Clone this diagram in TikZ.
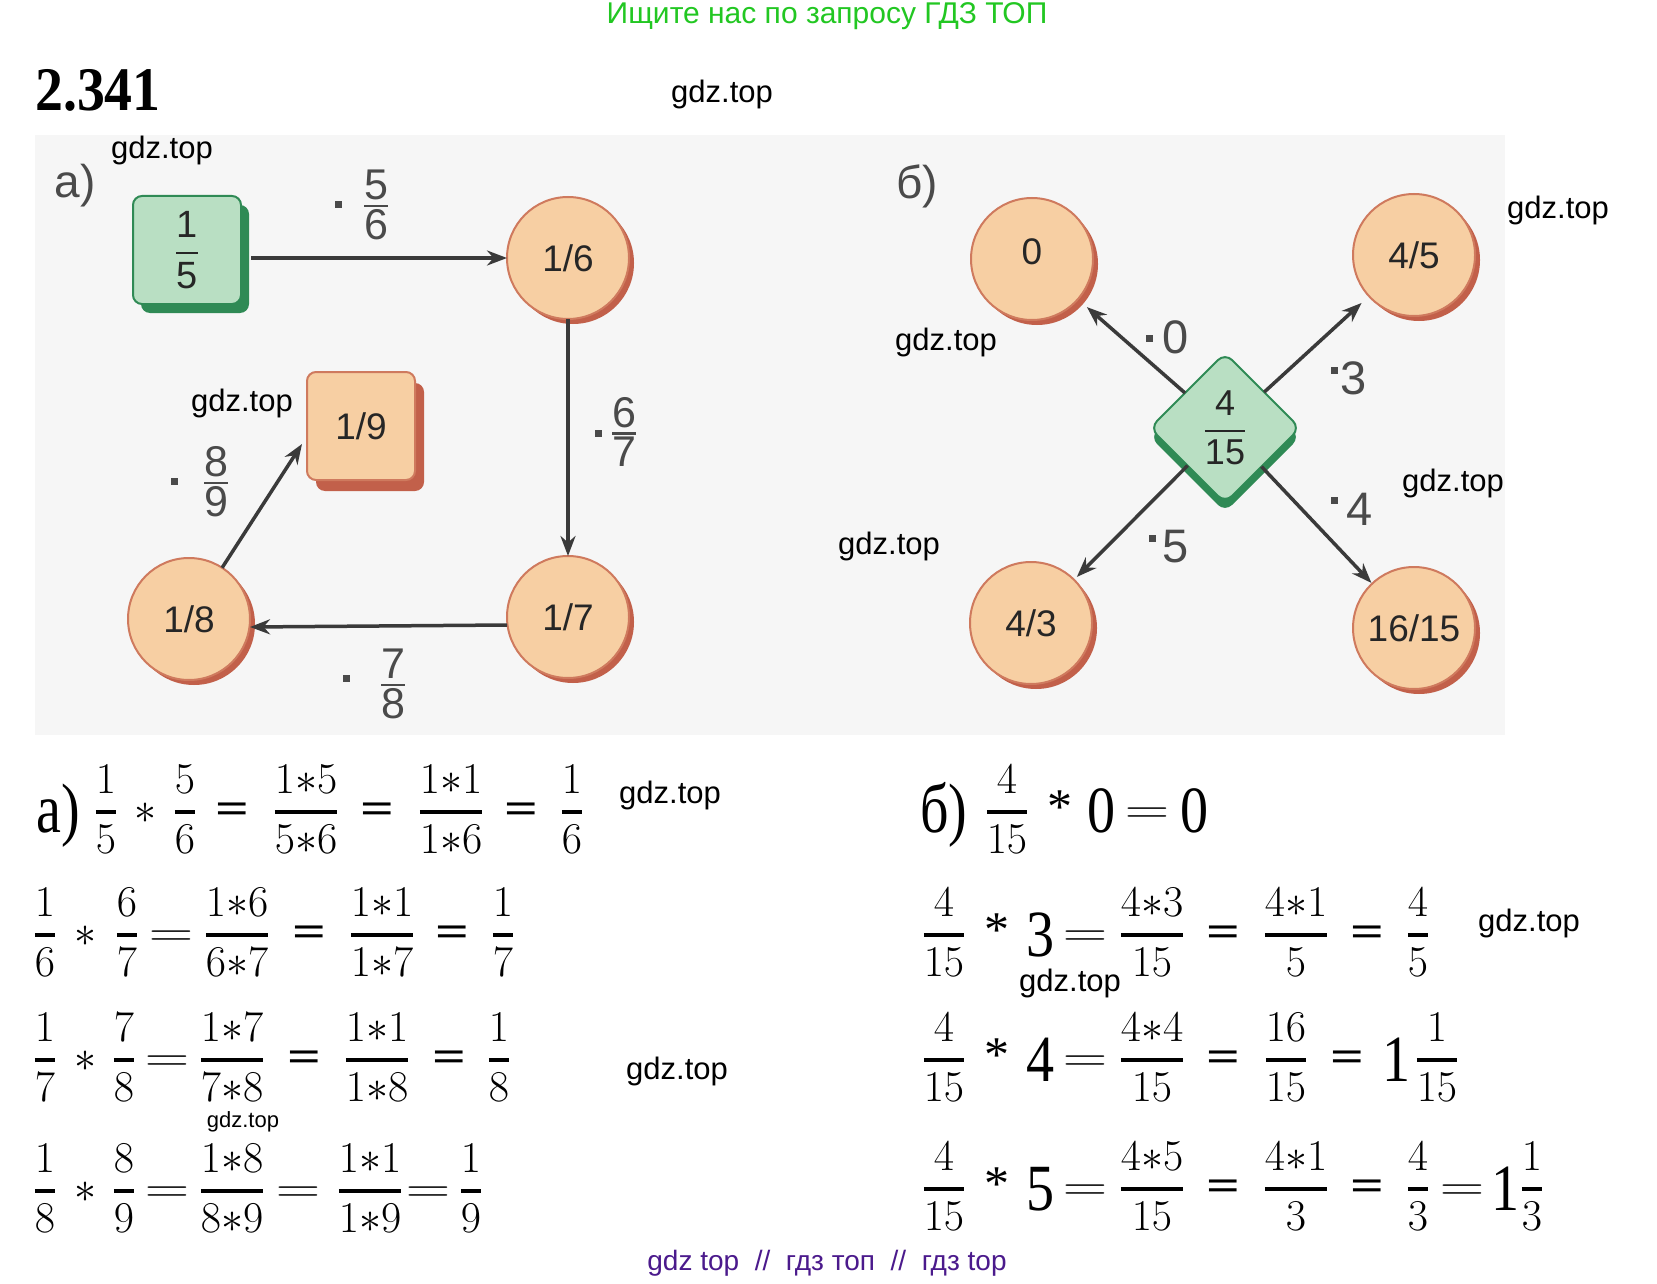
\RequirePackage{fix-cm}
\documentclass[tikz,border=0pt]{standalone}
\usepackage{amsmath}
\usepackage{fontspec}
\setmainfont{Liberation Serif}
\setsansfont{Liberation Sans}
\usetikzlibrary{arrows.meta,shapes.geometric,shadows}
\definecolor{gfill}{HTML}{B9DFC3}
\definecolor{gdark}{HTML}{2F8A55}
\definecolor{pfill}{HTML}{F7CFA3}
\definecolor{pdark}{HTML}{C2604A}
\definecolor{pline}{HTML}{CF7A5E}
\definecolor{arrc}{HTML}{3A3A3A}
\definecolor{labc}{HTML}{4A4A4A}
\definecolor{hgreen}{HTML}{22C722}
\definecolor{fpurple}{HTML}{4B1A8C}
\newcommand\FS[1]{\fontsize{#1}{#1}\selectfont}
\newcommand\F[2]{\genfrac{}{}{3.5pt}{0}{#1}{#2}}
\newcommand\LF[2]{\genfrac{}{}{2.5pt}{1}{\textstyle\text{#1}}{\textstyle\text{#2}}}
\newcommand\BF[2]{\genfrac{}{}{2.5pt}{0}{\text{#1}}{\text{#2}}}
\newcommand\EQ{\scalebox{1.4}[1]{$=$}}
\newcommand\EQB{\scalebox{1.35}[1]{\bfseries =}}
\newcommand\BG[1]{{\FS{66}\scalebox{0.85}[1]{#1}}}
\newcommand\BL[1]{{\FS{70}\scalebox{0.8}[1]{#1}}}
\begin{document}
\begin{tikzpicture}[x=1pt,y=-1pt,
  every node/.style={inner sep=0pt,outer sep=0pt},
  circ/.style={circle,fill=pfill,draw=pline,line width=2pt,minimum size=122pt,
    font=\sffamily\FS{37},text=black!85,
    drop shadow={shadow xshift=5pt,shadow yshift=-5pt,opacity=1,fill=pdark}},
  gsq/.style={rectangle,rounded corners=9pt,fill=gfill,draw=gdark,line width=2pt,
    minimum size=108pt,font=\sffamily\FS{38},text=black!85,
    drop shadow={shadow xshift=8pt,shadow yshift=-9pt,opacity=1,fill=gdark}},
  psq/.style={rectangle,rounded corners=9pt,fill=pfill,draw=pline,line width=2pt,
    minimum size=108pt,font=\sffamily\FS{37},text=black!85,
    drop shadow={shadow xshift=9pt,shadow yshift=-11pt,opacity=1,fill=pdark}},
  gdia/.style={diamond,aspect=1,rounded corners=10pt,fill=gfill,draw=gdark,line width=2pt,
    minimum width=150pt,minimum height=150pt,font=\sffamily\FS{36},text=black!85,
    drop shadow={shadow xshift=0pt,shadow yshift=-9pt,opacity=1,fill=gdark}},
  arr/.style={-{Stealth[length=20pt,width=15pt]},draw=arrc,line width=3.5pt},
  lab/.style={font=\sffamily\FS{43},text=labc},
  dotm/.style={fill=labc,minimum size=7pt},
  wm/.style={font=\sffamily\FS{31},text=black},
  eq/.style={anchor=base,font=\FS{44}},
]
\fill[white] (0,0) rectangle (1657,1284);
\useasboundingbox (0,0) rectangle (1657,1284);
\fill[black!3.5] (35,135) rectangle (1505,735);

% headers
\node[font=\sffamily\FS{30},text=hgreen] (hdr) at (827,16) {Ищите нас по запросу ГДЗ ТОП};
\node[font=\bfseries\FS{62}] (num) at (98,90) {\scalebox{0.9}[1]{2.341}};
\node[font=\sffamily\FS{46},text=labc] (la) at (75,186) {a)};
\node[font=\sffamily\FS{46},text=labc] (lb) at (917,186) {б)};

% diagram a
\node[gsq] (s15) at (187,250) {$\BF{1}{5}$};
\node[circ] (c16) at (568,258) {1/6};
\node[circ] (c17) at (568,617) {1/7};
\node[circ] (c18) at (189,619) {1/8};
\node[psq] (s19) at (361,426) {1/9};
\draw[arr] ([xshift=10pt]s15.east |- c16) -- (c16);
\draw[arr] (c16) -- (c17);
\draw[arr] ([yshift=-8pt]c17.west) -- ([yshift=-8pt]c18.east);
\draw[arr] (c18) -- ([yshift=-18pt,xshift=-5pt]s19.west);
\node[dotm] (d56) at (338,205) {};
\node[lab] (f56) at (376,205) {$\LF{5}{6}$};
\node[dotm] (d67) at (598,433) {};
\node[lab] (f67) at (624,432) {$\LF{6}{7}$};
\node[dotm] (d78) at (346,678) {};
\node[lab] (f78) at (393,684) {$\LF{7}{8}$};
\node[dotm] (d89) at (174,481) {};
\node[lab] (f89) at (216,482) {$\LF{8}{9}$};

% diagram b
\node[gdia] (dia) at (1225,428) {$\BF{4}{15}$};
\node[circ] (c0) at (1032,259) {\raisebox{14pt}{0}\hspace{22pt}};
\node[circ] (c45) at (1414,255) {4/5};
\node[circ] (c43) at (1031,623) {4/3\hspace{16pt}};
\node[circ] (c1615) at (1414,628) {16/15};
\draw[arr,shorten >=12pt] (dia) -- (c0);
\draw[arr,shorten >=10pt] (dia) -- (c45);
\draw[arr,shorten >=4pt] (dia) -- (c43);
\draw[arr,shorten >=1pt] (dia) -- (c1615);
\node[dotm] (d0) at (1149,338) {};
\node[lab,font=\sffamily\FS{47}] (n0) at (1176,337) {0};
\node[dotm] (d3) at (1334,370) {};
\node[lab,font=\sffamily\FS{47}] (n3) at (1354,378) {3};
\node[dotm] (d4) at (1334,500) {};
\node[lab,font=\sffamily\FS{47}] (n4) at (1360,509) {4};
\node[dotm] (d5) at (1152,538) {};
\node[lab,font=\sffamily\FS{47}] (n5) at (1176,547) {5};

% equations a
\foreach \x/\y/\t [count=\i] in {58/832/{\BL{a)}}, 106/823/{$\F{1}{5}$}, 145/823/{$\ast$}, 185/823/{$\F{5}{6}$}, 232/823/{\EQB}, 306/823/{$\F{1{\ast}5}{5{\ast}6}$}, 377/823/{\EQB}, 451/823/{$\F{1{\ast}1}{1{\ast}6}$}, 521/823/{\EQB}, 572/823/{$\F{1}{6}$}}
  \node[eq] (ra\i) at (\x,\y) {\t};
\foreach \x/\t [count=\i] in {45/{$\F{1}{6}$}, 85/{$\ast$}, 127/{$\F{6}{7}$}, 171/{\EQ}, 237/{$\F{1{\ast}6}{6{\ast}7}$}, 309/{\EQB}, 382/{$\F{1{\ast}1}{1{\ast}7}$}, 452/{\EQB}, 503/{$\F{1}{7}$}}
  \node[eq] (rb\i) at (\x,946) {\t};
\foreach \x/\t [count=\i] in {45/{$\F{1}{7}$}, 85/{$\ast$}, 124/{$\F{7}{8}$}, 167/{\EQ}, 232/{$\F{1{\ast}7}{7{\ast}8}$}, 304/{\EQB}, 377/{$\F{1{\ast}1}{1{\ast}8}$}, 449/{\EQB}, 499/{$\F{1}{8}$}}
  \node[eq] (rc\i) at (\x,1071) {\t};
\foreach \x/\t [count=\i] in {45/{$\F{1}{8}$}, 85/{$\ast$}, 124/{$\F{8}{9}$}, 167/{\EQ}, 232/{$\F{1{\ast}8}{8{\ast}9}$}, 298/{\EQ}, 370/{$\F{1{\ast}1}{1{\ast}9}$}, 428/{\EQ}, 471/{$\F{1}{9}$}}
  \node[eq] (rd\i) at (\x,1202) {\t};

% equations b
\foreach \x/\y/\t [count=\i] in {944/832/{\BL{б)}}, 1007/823/{$\F{4}{15}$}, 1060/823/{{\FS{50}*}}, 1102/832/{\BG{0}}, 1147/823/{\EQ}, 1195/832/{\BG{0}}}
  \node[eq] (sa\i) at (\x,\y) {\t};
\foreach \x/\y/\t [count=\i] in {944/946/{$\F{4}{15}$}, 997/946/{{\FS{50}*}}, 1041/956/{\BG{3}}, 1085/946/{\EQ}, 1152/946/{$\F{4{\ast}3}{15}$}, 1223/946/{\EQB}, 1296/946/{$\F{4{\ast}1}{5}$}, 1367/946/{\EQB}, 1418/946/{$\F{4}{5}$}}
  \node[eq] (sb\i) at (\x,\y) {\t};
\foreach \x/\y/\t [count=\i] in {944/1071/{$\F{4}{15}$}, 997/1071/{{\FS{50}*}}, 1041/1081/{\BG{4}}, 1085/1071/{\EQ}, 1152/1071/{$\F{4{\ast}4}{15}$}, 1223/1071/{\EQB}, 1286/1071/{$\F{16}{15}$}, 1347/1071/{\EQB}, 1397/1081/{\BG{1}}, 1437/1071/{$\F{1}{15}$}}
  \node[eq] (sc\i) at (\x,\y) {\t};
\foreach \x/\y/\t [count=\i] in {944/1200/{$\F{4}{15}$}, 997/1200/{{\FS{50}*}}, 1041/1210/{\BG{5}}, 1085/1200/{\EQ}, 1152/1200/{$\F{4{\ast}5}{15}$}, 1223/1200/{\EQB}, 1296/1200/{$\F{4{\ast}1}{3}$}, 1367/1200/{\EQB}, 1418/1200/{$\F{4}{3}$}, 1462/1200/{\EQ}, 1506/1210/{\BG{1}}, 1532/1200/{$\F{1}{3}$}}
  \node[eq] (sd\i) at (\x,\y) {\t};

% watermarks
\foreach \x/\y [count=\i] in {722/94, 162/150, 242/403, 946/342, 1558/210, 1453/483, 889/546, 670/795, 1529/923, 1070/983, 677/1071}
  \node[wm] (w\i) at (\x,\y) {gdz.top};
\node[wm,font=\sffamily\FS{22}] (w12) at (243,1122) {gdz.top};

\node[font=\sffamily\FS{28},text=fpurple] (ftr) at (827,1263) {gdz top \ // \ гдз топ \ // \ гдз top};
\end{tikzpicture}
\end{document}
